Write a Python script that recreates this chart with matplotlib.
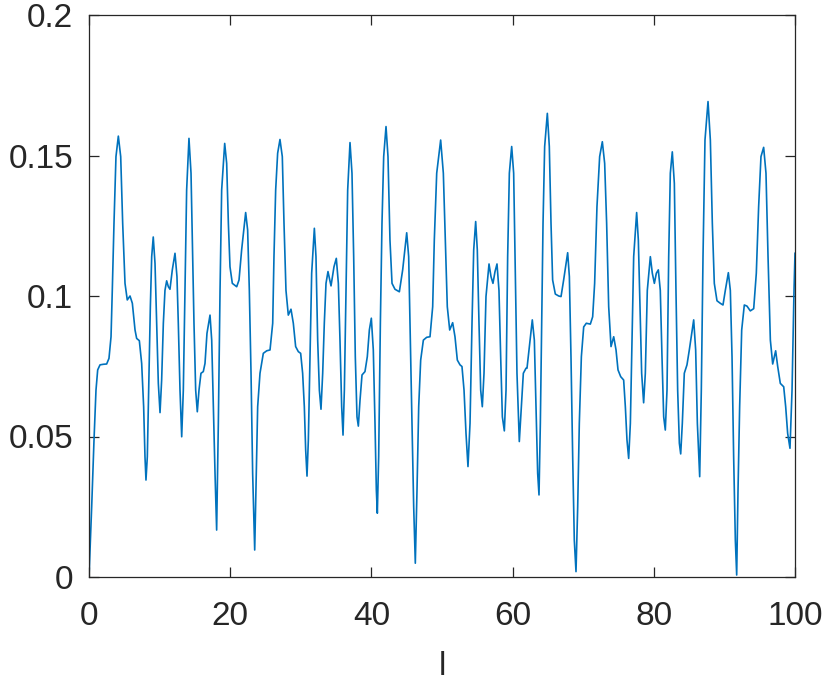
import matplotlib
matplotlib.use("Agg")
import matplotlib.pyplot as plt

x_vals = [0, 0.38, 0.71, 0.99, 1.23, 1.56, 2.03, 2.5, 2.83, 3.12, 3.30, 3.54, 3.82, 4.155, 4.49,
          4.77, 5.10, 5.42, 5.81, 6.14, 6.52, 6.75, 7.13, 7.46, 7.74, 7.93, 8.07, 8.26, 8.45, 8.69,
          8.88, 9.1, 9.35, 9.58, 9.82, 10.06, 10.29, 10.53, 10.76, 11.0, 11.24, 11.47, 11.80, 12.18,
          12.46, 12.65, 12.89, 13.13, 13.36, 13.6, 13.83, 14.16, 14.45, 14.64, 14.87, 15.11, 15.34,
          15.58, 15.86, 16.19, 16.43, 16.71, 17.14, 17.38, 17.61, 17.85, 18.08, 18.32, 18.56, 18.79,
          19.22, 19.5, 19.74, 19.97, 20.3, 20.92, 21.25, 21.62, 22.19, 22.47, 22.71, 22.95, 23.18,
          23.47, 23.7, 23.89, 24.22, 24.69, 25.17, 25.64, 26.02, 26.2, 26.44, 26.72, 27.05, 27.38,
          27.62, 27.9, 28.23, 28.61, 28.94, 29.27, 29.65, 29.98, 30.26, 30.5, 30.69, 30.88, 31.07,
          31.3, 31.54, 31.92, 32.15, 32.39, 32.63, 32.86, 33.1, 33.33, 33.57, 33.85, 34.28, 34.7,
          35.03, 35.32, 35.55, 35.79, 35.98, 36.17, 36.4, 36.64, 36.97, 37.25, 37.49, 37.72, 37.96,
          38.15, 38.39, 38.67, 39.09, 39.42, 39.71, 39.99, 40.27, 40.51, 40.7, 40.84, 41.03, 41.27,
          41.5, 41.74, 42.07, 42.35, 42.63, 42.92, 43.34, 43.96, 44.43, 45.0, 45.28, 45.51, 45.75,
          45.99, 46.22, 46.46, 46.7, 46.98, 47.36, 47.83, 48.3, 48.68, 48.91, 49.25, 49.81, 50.19,
          50.47, 50.75, 51.09, 51.51, 51.84, 52.17, 52.55, 52.83, 53.12, 53.4, 53.68, 53.97, 54.25,
          54.49, 54.77, 55.0, 55.24, 55.48, 55.71, 55.95, 56.23, 56.66, 56.94, 57.22, 57.51, 57.79,
          58.07, 58.31, 58.55, 58.83, 59.07, 59.3, 59.54, 59.87, 60.15, 60.39, 60.62, 60.95, 61.24,
          61.52, 61.9, 62.04, 62.42, 62.79, 63.08, 63.31, 63.55, 63.74, 63.93, 64.12, 64.31, 64.54,
          64.92, 65.2, 65.44, 65.67, 66.05, 66.53, 66.86, 67.23, 67.8, 68.04, 68.27, 68.51, 68.74,
          68.98, 69.22, 69.45, 69.74, 70.07, 70.44, 71.01, 71.34, 71.62, 71.95, 72.33, 72.71, 73.04,
          73.32, 73.61, 73.94, 74.32, 74.65, 74.93, 75.31, 75.73, 75.97, 76.2, 76.44, 76.68, 76.91,
          77.15, 77.57, 77.81, 78.05, 78.28, 78.56, 78.8, 79.08, 79.51, 79.79, 80.08, 80.36, 80.64,
          80.92, 81.16, 81.4, 81.63, 81.87, 82.11, 82.34, 82.62, 82.91, 83.14, 83.38, 83.62, 83.81,
          84.04, 84.32, 84.7, 85.03, 85.65, 85.93, 86.17, 86.5, 86.73, 86.97, 87.25, 87.68, 88.01,
          88.29, 88.57, 88.95, 89.42, 89.8, 90.13, 90.56, 90.84, 91.08, 91.31, 91.55, 91.74, 91.93,
          92.16, 92.45, 92.82, 93.2, 93.67, 94.15, 94.52, 94.85, 95.18, 95.56, 95.89, 96.18, 96.51,
          96.84, 97.26, 97.55, 97.92, 98.4, 98.68, 98.96, 99.29, 99.58, 99.86, 100]

y_vals = [0.0, 0.025, 0.0488, 0.0665, 0.0737, 0.0755, 0.0757, 0.0758, 0.0778, 0.0855, 0.1021,
          0.1259, 0.1496, 0.1569, 0.1496, 0.1259, 0.1045, 0.0986, 0.1000, 0.0974, 0.0879, 0.0849,
          0.0841, 0.0760, 0.0606, 0.0428, 0.0345, 0.0428, 0.0665, 0.0962, 0.114, 0.121, 0.1116,
          0.0903, 0.0689, 0.0585, 0.0701, 0.0903, 0.102, 0.1054, 0.1033, 0.1024, 0.1093, 0.1152,
          0.1069, 0.0903, 0.0665, 0.0499, 0.0665, 0.102, 0.1377, 0.1561, 0.1437, 0.1199, 0.0903,
          0.0665, 0.0588, 0.0665, 0.0725, 0.0731, 0.0760, 0.0867, 0.0932, 0.0843, 0.0606, 0.0369,
          0.0167, 0.0547, 0.102, 0.1377, 0.1543, 0.1472, 0.1259, 0.1104, 0.1045, 0.1033, 0.1057,
          0.1164, 0.1297, 0.1235, 0.102, 0.0725, 0.0369, 0.0096, 0.0369, 0.0606, 0.0725, 0.0796,
          0.0805, 0.0808, 0.0903, 0.114, 0.1377, 0.1508, 0.1557, 0.1496, 0.1259, 0.102, 0.0932,
          0.0953, 0.0903, 0.082, 0.0802, 0.0796, 0.0725, 0.0606, 0.0452, 0.0359, 0.0488, 0.0784,
          0.1081, 0.1241, 0.114, 0.0843, 0.0665, 0.0597, 0.0725, 0.0903, 0.1045, 0.1087, 0.1036,
          0.1104, 0.1134, 0.1045, 0.0843, 0.0606, 0.0505, 0.0665, 0.102, 0.1377, 0.1546, 0.1437,
          0.114, 0.0784, 0.057, 0.0537, 0.063, 0.0719, 0.0731, 0.0784, 0.0879, 0.0921, 0.0808,
          0.0547, 0.031, 0.0227, 0.0428, 0.0903, 0.1259, 0.1496, 0.1603, 0.1496, 0.1199, 0.1045,
          0.1024, 0.1015, 0.1093, 0.1225, 0.114, 0.0843, 0.0547, 0.025, 0.0049, 0.031, 0.0606,
          0.0772, 0.0843, 0.0853, 0.0855, 0.0962, 0.1199, 0.1437, 0.1555, 0.1437, 0.1199, 0.0962,
          0.0879, 0.0905, 0.0855, 0.0772, 0.0755, 0.0749, 0.0665, 0.0511, 0.0393, 0.0547, 0.0903,
          0.1164, 0.1265, 0.1164, 0.0903, 0.0665, 0.0606, 0.0725, 0.0998, 0.1114, 0.1069, 0.1045,
          0.1087, 0.1114, 0.102, 0.0784, 0.057, 0.052, 0.0665, 0.114, 0.1437, 0.1532, 0.1437,
          0.1081, 0.0725, 0.0482, 0.0606, 0.0725, 0.0743, 0.0743, 0.0832, 0.0915, 0.0843, 0.0606,
          0.0369, 0.0292, 0.0547, 0.0903, 0.1259, 0.1532, 0.165, 0.1532, 0.1259, 0.1057, 0.1007,
          0.1000, 0.0998, 0.1057, 0.1154, 0.1069, 0.0784, 0.0428, 0.0131, 0.0019, 0.025, 0.0547,
          0.0784, 0.089, 0.0903, 0.09, 0.0926, 0.1045, 0.1318, 0.1496, 0.1549, 0.1472, 0.1259,
          0.0962, 0.082, 0.0855, 0.0808, 0.0737, 0.0713, 0.0701, 0.0606, 0.0488, 0.0422, 0.0547,
          0.0843, 0.114, 0.1297, 0.1199, 0.0962, 0.0725, 0.062, 0.0725, 0.102, 0.114, 0.1081,
          0.1045, 0.1081, 0.1093, 0.102, 0.0784, 0.057, 0.0523, 0.0665, 0.114, 0.1437, 0.1513,
          0.1401, 0.102, 0.0665, 0.0476, 0.0438, 0.0547, 0.0725, 0.0755, 0.0808, 0.0915, 0.0808,
          0.0547, 0.0357, 0.0665, 0.114, 0.1555, 0.1692, 0.1555, 0.1259, 0.1045, 0.0983, 0.0974,
          0.0968, 0.102, 0.1083, 0.102, 0.0784, 0.0428, 0.0131, 0.0007, 0.031, 0.0606, 0.0879,
          0.0968, 0.0964, 0.0947, 0.0955, 0.1081, 0.1318, 0.1496, 0.1529, 0.1437, 0.114, 0.0843,
          0.0758, 0.0805, 0.0749, 0.0689, 0.0677, 0.0606, 0.0511, 0.0458, 0.0665, 0.102, 0.1152]

x_ticks = [0, 20, 40, 60, 80, 100]
y_ticks = [0, 0.05, 0.1, 0.15, 0.2]
y_tick_labels = ["0", "0.05", "0.1", "0.15", "0.2"]
x_label = "l"

plt.rcParams['font.family'] = ['Liberation Sans', 'DejaVu Sans']
dark = '#262626'

fig = plt.figure(figsize=(8.30, 6.81), dpi=100)
ax = fig.add_axes([89/830, 1 - 577/681, (795 - 89)/830, (577 - 15)/681])
ax.plot(x_vals, y_vals, color='#0072BD', linewidth=1.2, solid_joinstyle='round')
ax.set_xlim(0, 100)
ax.set_ylim(0, 0.2)
ax.set_xticks(x_ticks)
ax.set_xticklabels([str(t) for t in x_ticks])
ax.set_yticks(y_ticks)
ax.set_yticklabels(y_tick_labels)
ax.tick_params(direction='in', length=7, width=0.9, colors=dark, labelsize=24,
               top=True, right=True, labelcolor=dark)
ax.tick_params(axis='x', pad=17)
ax.tick_params(axis='y', pad=11.5)
for s in ax.spines.values():
    s.set_color(dark)
    s.set_linewidth(0.9)
ax.set_xlabel(x_label, fontsize=24, color=dark, labelpad=14)

fig.savefig('out.png', dpi=100)
